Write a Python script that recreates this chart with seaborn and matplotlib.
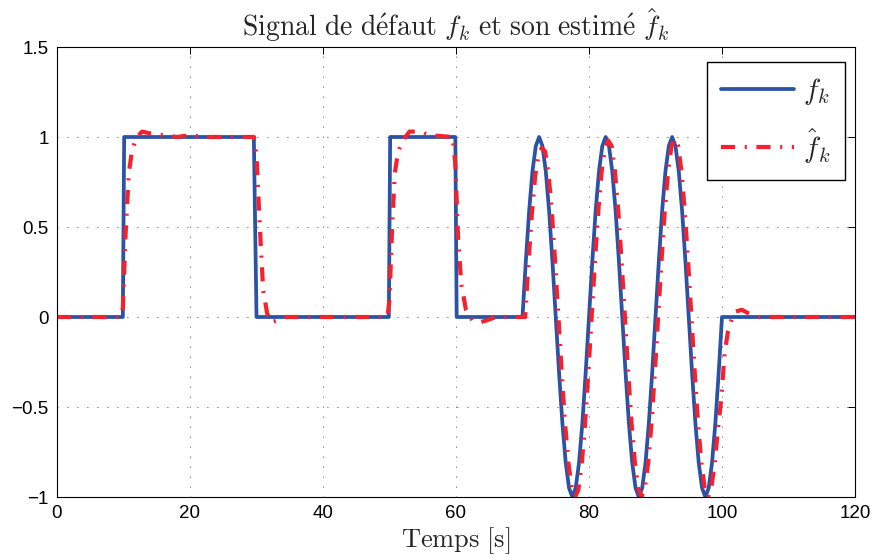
import numpy as np
import pandas as pd
import matplotlib
matplotlib.use("Agg")
import matplotlib.pyplot as plt
import seaborn as sns

# ---------------- data ----------------
# true fault signal f_k : steps
t_step = [0, 9.9, 10.1, 29.6, 30.0, 49.9, 50.1, 59.9, 60.1, 69.9]
f_step = [0, 0, 1, 1, 0, 0, 1, 1, 0, 0]
# sinusoidal part of f_k, sampled every 0.5 s from 70 s to 100 s
t_sin = list(np.arange(70.0, 100.01, 0.5))
f_sin = [0, .31, .59, .81, .95, 1.0, .95, .81, .59, .31,
         0, -.31, -.59, -.81, -.95, -1.0, -.95, -.81, -.59, -.31,
         0, .31, .59, .81, .95, 1.0, .95, .81, .59, .31,
         0, -.31, -.59, -.81, -.95, -1.0, -.95, -.81, -.59, -.31,
         0, .31, .59, .81, .95, 1.0, .95, .81, .59, .31,
         0, -.31, -.59, -.81, -.95, -1.0, -.95, -.81, -.59, -.31,
         0]
t_end = [100.0, 120.0]
f_end = [0, 0]

# estimate \hat f_k
t_est_a = [0, 9.6, 9.9, 10.3, 10.8, 11.3, 12.0, 12.8, 14, 16, 18, 20, 22, 29.6,
           30.0, 30.5, 31.0, 31.6, 32.2, 33.0, 34.0, 49.7,
           50.0, 50.4, 50.8, 51.3, 52.0, 53.0, 54.5, 56.0, 59.5,
           59.9, 60.3, 60.8, 61.5, 62.5, 63.5, 64.5, 66.0, 70.2]
fh_est_a = [0, 0, 0.05, 0.45, 0.8, 0.93, 1.0, 1.03, 1.02, 1.01, 1.0, 1.01, 1.0, 1.0,
            0.9, 0.5, 0.15, 0.02, -0.03, -0.02, 0, 0,
            0.1, 0.5, 0.8, 0.92, 0.98, 1.03, 1.03, 1.01, 1.0,
            0.85, 0.45, 0.18, 0.04, -0.02, -0.03, -0.02, 0, 0]
t_est_sin = list(np.arange(70.4, 99.95, 0.5))
fh_est_sin = [0, .30, .57, .78, .90, .94, .92, .80, .59, .31,
              0, -.31, -.59, -.81, -.95, -1.0, -.96, -.82, -.60, -.31,
              0, .31, .59, .81, .94, .98, .95, .81, .59, .31,
              0, -.31, -.59, -.81, -.95, -1.0, -.95, -.81, -.59, -.31,
              0, .31, .59, .81, .95, .99, .95, .81, .59, .31,
              0, -.31, -.59, -.81, -.95, -1.0, -.95, -.81, -.62, -.45]
t_est_end = [100.4, 100.9, 101.4, 102.0, 103.0, 104.0, 105.5, 120.0]
fh_est_end = [-0.2, -0.08, -0.02, 0.03, 0.04, 0.02, 0, 0]

x_ticks = [0, 20, 40, 60, 80, 100, 120]
y_ticks = [-1, -0.5, 0, 0.5, 1, 1.5]
y_ticklabels = ["\u22121", "\u22120.5", "0", "0.5", "1", "1.5"]

df_f = pd.DataFrame({"t": t_step + t_sin + t_end, "v": f_step + f_sin + f_end})
df_h = pd.DataFrame({"t": t_est_a + t_est_sin + t_est_end,
                     "v": fh_est_a + fh_est_sin + fh_est_end})

# ---------------- style ----------------
sns.set_style("white")
plt.rcParams["font.family"] = ["Liberation Sans", "DejaVu Sans"]
plt.rcParams["mathtext.fontset"] = "cm"

fig = plt.figure(figsize=(8.79, 5.58), dpi=100)
ax = fig.add_axes([57/879, 1-497/558, (855-57)/879, (497-47)/558])

blue = "#2a52a5"
red = "#f5222d"
sns.lineplot(data=df_f, x="t", y="v", ax=ax, sort=False, estimator=None,
             color=blue, linewidth=2.7, label=r"$f_k$")
sns.lineplot(data=df_h, x="t", y="v", ax=ax, sort=False, estimator=None,
             color=red, linewidth=3.0, label=r"$\hat{f}_k$")
ax.lines[1].set_dashes((3.4, 2.3, 0.5, 2.3))

ax.set_xlim(0, 120)
ax.set_ylim(-1, 1.5)
ax.set_xticks(x_ticks)
ax.set_xticklabels([str(v) for v in x_ticks])
ax.set_yticks(y_ticks)
ax.set_yticklabels(y_ticklabels)
ax.tick_params(direction="in", length=5, width=0.7, top=True, right=True,
               labelsize=13.5, colors="black", pad=6)
for s in ax.spines.values():
    s.set_color("black")
    s.set_linewidth(0.8)
ax.grid(True, color="black", linewidth=0.6, linestyle=(0, (1, 11)))

ax.set_title(r"$\mathrm{Signal\ de\ d\acute{e}faut}\ f_k\ \mathrm{et\ son\ estim\acute{e}}\ \hat{f}_k$",
             fontsize=20, pad=8)
ax.set_xlabel(r"$\mathrm{Temps\ [s]}$", fontsize=19, labelpad=2)
ax.set_ylabel("")

leg = ax.legend(loc="upper right", bbox_to_anchor=(0.988, 0.967), fontsize=21,
                handlelength=2.5, frameon=True, fancybox=False, framealpha=1,
                edgecolor="black", borderpad=0.5, labelspacing=0.65,
                handletextpad=0.3, borderaxespad=0)
leg.get_frame().set_linewidth(1.0)

fig.savefig("out.png", dpi=100)
